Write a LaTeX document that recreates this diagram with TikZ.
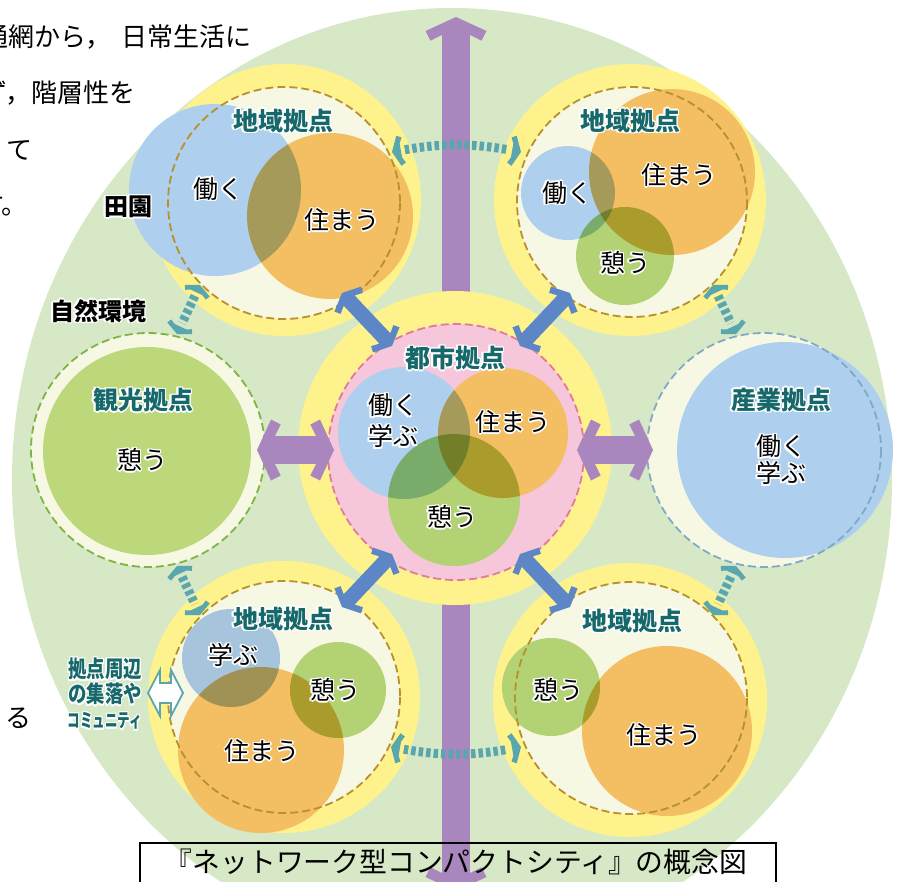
\documentclass[tikz,border=0pt]{standalone}
\usepackage{fontspec}
\usepackage{graphicx}
\setmainfont{Noto Sans CJK JP}
\usetikzlibrary{decorations.markings}

\definecolor{fieldgreen}{HTML}{D6E8C6}
\definecolor{ringyellow}{HTML}{FEF28C}
\definecolor{cream}{HTML}{F7F8E4}
\definecolor{citypink}{HTML}{F6C7DB}
\definecolor{pinkline}{HTML}{E27A98}
\definecolor{brownline}{HTML}{B8902C}
\definecolor{greenline}{HTML}{7DB544}
\definecolor{blueline}{HTML}{80AAC4}
\definecolor{workblue}{HTML}{AED0EE}
\definecolor{liveorange}{HTML}{F4BE62}
\definecolor{restgreen}{HTML}{B2D273}
\definecolor{spotgreen}{HTML}{BCD87A}
\definecolor{linkpurple}{HTML}{AA86BE}
\definecolor{linkblue}{HTML}{5C86C6}
\definecolor{linkteal}{HTML}{5AA6AE}
\definecolor{titleteal}{HTML}{17686A}

% white outline round a label
\newcommand{\halo}[1]{\leavevmode\foreach \hx/\hy in {1.5/0,-1.5/0,0/1.5,0/-1.5,1.1/1.1,1.1/-1.1,-1.1/1.1,-1.1/-1.1}{\rlap{\hspace*{\hx pt}\raisebox{\hy pt}{\color{white}#1}}}#1}
% arrow head, tip at the origin, pointing along x
\newcommand{\chevhead}{(0,0) -- (-14,30.5) -- (-23.7,25.5) -- (-18,14) -- (-18,-14) -- (-23.7,-25.5) -- (-14,-30.5) -- cycle}

\tikzset{
  lbl/.style={font=\fontsize{25}{28}\selectfont, text=black, inner sep=0pt, align=center},
  ttl/.style={font=\bfseries\fontsize{25}{28}\selectfont, text=titleteal, inner sep=0pt},
  body/.style={font=\fontsize{26}{30}\selectfont, anchor=west, inner sep=0pt},
  heads/.style={postaction={decorate, decoration={markings,
      mark=at position 0 with {\fill[xscale=-#1, yscale=#1] \chevhead;},
      mark=at position 1 with {\fill[scale=#1] \chevhead;}}}},
  purplebar/.style={linkpurple, line width=28pt, shorten <=17pt, shorten >=17pt},
  bluebar/.style={linkblue, line width=15pt, shorten <=10pt, shorten >=10pt},
  tealdots/.style={linkteal, line width=9pt, dash pattern=on 4.5pt off 3pt, shorten <=12pt, shorten >=12pt},
  ringline/.style={line width=1.8pt, dash pattern=on 8pt off 4pt},
}

\begin{document}
\begin{tikzpicture}[x=1pt, y=-1pt]
    \useasboundingbox (0,0) rectangle (897,881);
    \fill[white] (0,0) rectangle (897,881);

    % Text of the page round the figure
    \node[body] (line1a) at (-18,37) {通網から，};
    \node[body] (line1b) at (121,37) {日常生活に};
    \node[body] (line2) at (-19,93) {ず，階層性を};
    \node[body] (line3) at (6,150) {て};
    \node[body] (line4) at (-22,205) {す。};
    \node[body] (line5) at (5,718) {る};

    % Field
    \fill[fieldgreen] (452,480) ellipse (440 and 472);

    % Main axis
    \coordinate (axisTop) at (456,17);
    \coordinate (axisBot) at (456,891);
    \draw[purplebar] (axisTop) -- (axisBot);
    \path[linkpurple, heads=1] (axisTop) -- (axisBot);

    % Local hub, top left
    \fill[ringyellow] (285,200) circle (136);
    \fill[cream] (284,203) circle (116);
    \begin{scope}[transparency group]
        \begin{scope}[blend mode=multiply]
            \fill[workblue] (215,190) circle (86);
            \fill[liveorange] (330,216) circle (83);
        \end{scope}
    \end{scope}
    \draw[brownline, ringline] (284,203) circle (116);

    % Local hub, top right
    \fill[ringyellow] (630,200) circle (136);
    \fill[cream] (632,202) circle (115);
    \begin{scope}[transparency group]
        \begin{scope}[blend mode=multiply]
            \fill[liveorange] (672,172) circle (83);
            \fill[workblue] (568,193) circle (47);
            \fill[restgreen] (625,256) circle (49);
        \end{scope}
    \end{scope}
    \draw[brownline, ringline] (632,202) circle (115);

    % Tourism hub
    \fill[cream] (148,450) circle (117);
    \fill[spotgreen] (147,451) circle (104);
    \draw[greenline, ringline] (148,450) circle (117);

    % Industry hub
    \fill[cream] (764,450) circle (117);
    \fill[workblue] (785,450) circle (108);
    \draw[blueline, ringline] (764,450) circle (117);

    % Local hub, bottom left
    \fill[ringyellow] (284,697) circle (136);
    \fill[cream] (284,697) circle (116);
    \begin{scope}[transparency group]
        \begin{scope}[blend mode=multiply]
            \fill[workblue!85!gray] (231,658) circle (49);
            \fill[liveorange] (261,750) circle (83);
            \fill[restgreen] (338,690) circle (48);
        \end{scope}
    \end{scope}
    \draw[brownline, ringline] (284,697) circle (116);

    % Local hub, bottom right
    \fill[ringyellow] (630,700) circle (137);
    \fill[cream] (631,698) circle (116);
    \begin{scope}[transparency group]
        \begin{scope}[blend mode=multiply]
            \fill[restgreen] (551,687) circle (49);
            \fill[liveorange] (667,731) circle (85);
        \end{scope}
    \end{scope}
    \draw[brownline, ringline] (631,698) circle (116);

    % City hub
    \fill[ringyellow] (455,448) circle (157);
    \fill[citypink] (456,452) circle (128);
    \begin{scope}[transparency group]
        \begin{scope}[blend mode=multiply]
            \fill[workblue] (404,433) circle (66);
            \fill[liveorange] (503,433) circle (65);
            \fill[restgreen] (454,500) circle (66);
        \end{scope}
    \end{scope}
    \draw[pinkline, ringline] (456,452) circle (128);

    % Links city - tourism / industry
    \coordinate (spotA) at (257,450);
    \coordinate (cityW) at (334,450);
    \coordinate (cityE) at (577,450);
    \coordinate (workA) at (653,450);
    \draw[purplebar] (spotA) -- (cityW);
    \path[linkpurple, heads=1] (spotA) -- (cityW);
    \draw[purplebar] (cityE) -- (workA);
    \path[linkpurple, heads=1] (cityE) -- (workA);

    % Links city - local hubs
    \coordinate (tlIn) at (342,293);
    \coordinate (tlCity) at (392,346);
    \coordinate (trIn) at (570,293);
    \coordinate (trCity) at (520,346);
    \coordinate (blIn) at (342,607);
    \coordinate (blCity) at (392,554);
    \coordinate (brIn) at (570,607);
    \coordinate (brCity) at (520,554);
    \foreach \a/\b in {tlIn/tlCity, trIn/trCity, blIn/blCity, brIn/brCity} {
        \draw[bluebar] (\a) -- (\b);
        \path[linkblue, heads=0.6] (\a) -- (\b);
    }

    % Links between neighbouring hubs
    \coordinate (tlSpot) at (200,285);
    \coordinate (spotTop) at (177,334);
    \coordinate (spotBot) at (177,566);
    \coordinate (blSpot) at (200,615);
    \coordinate (trWork) at (713,285);
    \coordinate (workTop) at (736,334);
    \coordinate (workBot) at (736,566);
    \coordinate (brWork) at (713,615);
    \foreach \a/\b in {tlSpot/spotTop, spotBot/blSpot, trWork/workTop, workBot/brWork} {
        \draw[tealdots] (\a) -- (\b);
        \path[linkteal, heads=0.45] (\a) -- (\b);
    }
    \coordinate (tlTr) at (392,152);
    \coordinate (trTl) at (521,152);
    \coordinate (blBr) at (391,747);
    \coordinate (brBl) at (521,747);
    \draw[tealdots, shorten <=13pt, shorten >=13pt] (tlTr) to[bend left=10] (trTl);
    \path[linkteal, heads=0.5] (tlTr) to[bend left=10] (trTl);
    \draw[tealdots, shorten <=13pt, shorten >=13pt] (blBr) to[bend right=10] (brBl);
    \path[linkteal, heads=0.5] (blBr) to[bend right=10] (brBl);

    % Settlements next to the hub
    \draw[linkteal, fill=white, line width=1.8pt] (148,693) -- (160,670) -- (160,683) -- (171,683) -- (171,670) -- (183,693)
        -- (171,716) -- (171,703) -- (160,703) -- (160,716) -- cycle;
    \node[ttl, align=center, font=\bfseries\fontsize{23}{25}\selectfont] (nearby) at (105,694)
        {\scalebox{0.8}[1]{\halo{拠点周辺}}\\ \scalebox{0.8}[1]{\halo{の集落や}}\\
         \scalebox{0.66}[1]{\fontsize{19}{22}\selectfont\halo{コミュニティ}}};

    % Labels
    \node[lbl, font=\bfseries\fontsize{24}{28}\selectfont] (fields) at (128,207) {\halo{田園}};
    \node[lbl, font=\bfseries\fontsize{24}{28}\selectfont] (nature) at (98,311) {\halo{自然環境}};

    \node[ttl] (tlTitle) at (283,121) {\halo{地域拠点}};
    \node[lbl] (tlWork) at (218,189) {\halo{働く}};
    \node[lbl] (tlLive) at (342,220) {\halo{住まう}};

    \node[ttl] (trTitle) at (630,121) {\halo{地域拠点}};
    \node[lbl] (trWorkL) at (567,193) {\halo{働く}};
    \node[lbl] (trLive) at (679,175) {\halo{住まう}};
    \node[lbl] (trRest) at (625,263) {\halo{憩う}};

    \node[ttl] (spotTitle) at (143,400) {\halo{観光拠点}};
    \node[lbl] (spotRest) at (142,460) {\halo{憩う}};

    \node[ttl] (workTitle) at (781,400) {\halo{産業拠点}};
    \node[lbl, font=\fontsize{25}{27}\selectfont] (workLbl) at (781,460) {\halo{働く}\\\halo{学ぶ}};

    \node[ttl] (cityTitle) at (455,358) {\halo{都市拠点}};
    \node[lbl, font=\fontsize{25}{31}\selectfont] (cityWork) at (393,421) {\halo{働く}\\\halo{学ぶ}};
    \node[lbl] (cityLive) at (513,422) {\halo{住まう}};
    \node[lbl] (cityRest) at (452,517) {\halo{憩う}};

    \node[ttl] (blTitle) at (283,619) {\halo{地域拠点}};
    \node[lbl] (blLearn) at (233,655) {\halo{学ぶ}};
    \node[lbl] (blRest) at (335,690) {\halo{憩う}};
    \node[lbl] (blLive) at (262,751) {\halo{住まう}};

    \node[ttl] (brTitle) at (632,621) {\halo{地域拠点}};
    \node[lbl] (brRest) at (558,690) {\halo{憩う}};
    \node[lbl] (brLive) at (664,735) {\halo{住まう}};

    % Caption
    \draw[line width=1.5pt] (140,843) rectangle (776,900);
    \node[font=\fontsize{27.8}{30}\selectfont, inner sep=0pt] (caption) at (456,862)
        {『ネットワーク型コンパクトシティ』の概念図};
\end{tikzpicture}
\end{document}
